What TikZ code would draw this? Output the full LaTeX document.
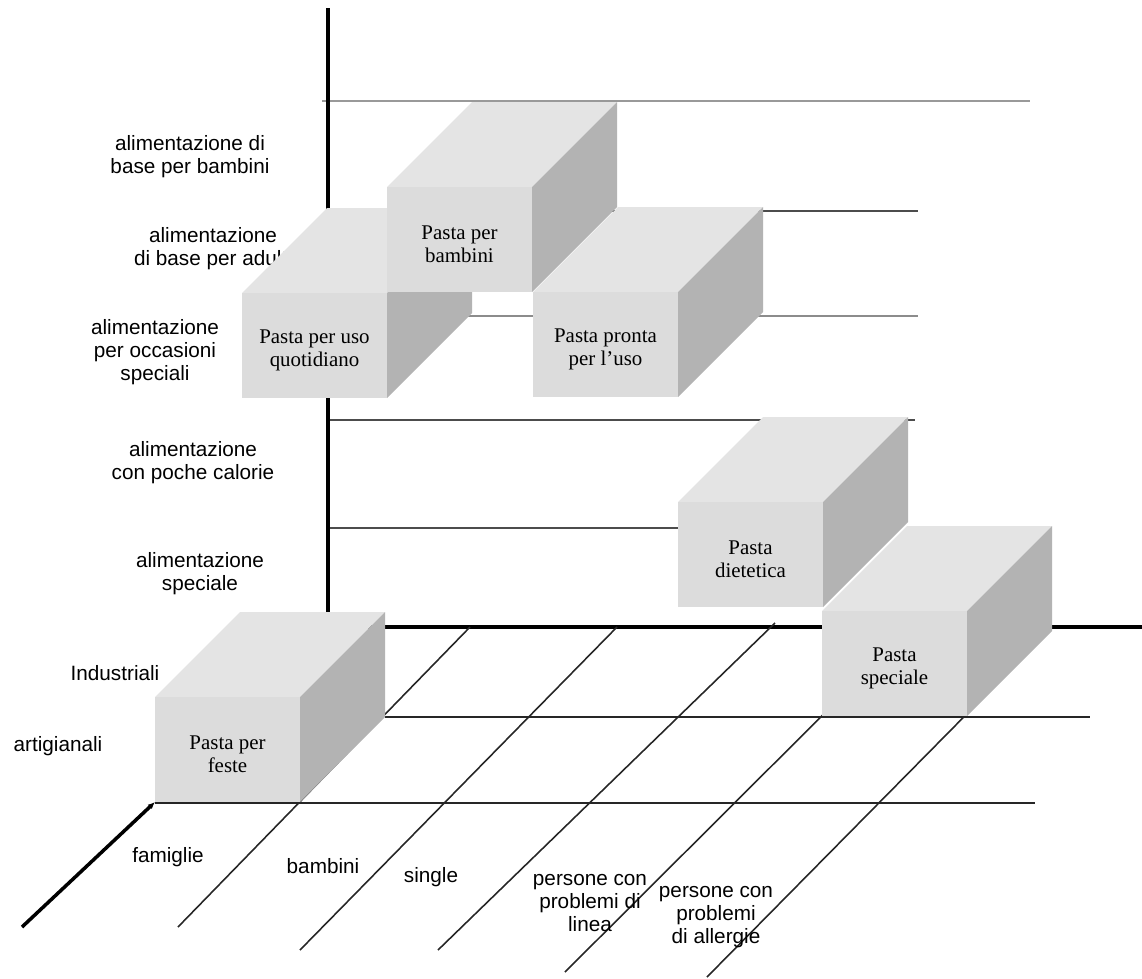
\documentclass[tikz,border=0pt]{standalone}
\usepackage{fontspec}
\setmainfont{Liberation Serif}
\setsansfont{Liberation Sans}
\usepackage{xcolor}
\usetikzlibrary{arrows.meta}
\definecolor{frontgray}{HTML}{DCDCDC}
\definecolor{topgray}{HTML}{E4E4E4}
\definecolor{sidegray}{HTML}{B3B3B3}
% cube: name, left x and top y of the front face, text
\newcommand{\pastacube}[4]{%
  \fill[topgray] (#2,#3) -- ++(85,-85) -- ++(145,0) -- ++(-85,85) -- cycle;
  \fill[sidegray] (#2+145,#3) -- ++(85,-85) -- ++(0,105) -- ++(-85,85) -- cycle;
  \fill[frontgray] (#2,#3) rectangle ++(145,105);
  \node[cubetext] (#1) at (#2+72.5,#3+57) {#4};
}

\begin{document}
\begin{tikzpicture}[
  x=0.02cm, y=-0.02cm,
  cubetext/.style={align=center, inner sep=0pt, font=\rmfamily\fontsize{11.9}{13.1}\selectfont},
  catlabel/.style={align=center, inner sep=0pt, font=\sffamily\fontsize{11.8}{13.1}\selectfont},
  rung/.style={line width=1.1pt, draw=black!55},
  axis/.style={line width=2.3pt},
  floorline/.style={line width=0.9pt, draw=black!85}
]
\useasboundingbox (0,0) rectangle (1142,978);

% levels on the back wall
\draw[rung, draw=black!40] (322,101) -- (1030,101);
\draw[rung, draw=black!70] (328,211) -- (918,211);
\draw[rung, draw=black!45] (328,316) -- (918,316);
\draw[rung, draw=black!70] (328,420) -- (915,420);
\draw[rung, draw=black!70] (328,528) -- (678,528);
\draw[axis] (328,8) -- (328,627);

% floor
\draw[axis, line width=2pt] (328,627) -- (1142,627);
\draw[floorline] (385,717) -- (1090,717);
\draw[floorline] (155,803) -- (1035,803);
\foreach \xa/\ya/\xb/\yb in {470/627/178/927, 617/627/300/950, 775/623/438/950, 911/627/565/972, 1023/657/707/977}
  \draw[floorline] (\xa,\ya) -- (\xb,\yb);
\draw[axis, line width=2pt, -{Latex[length=0.14cm, width=0.12cm]}] (22,927) -- (155,802);

% category labels
\node[catlabel] (basebimbi) at (190,157) {alimentazione di\\base per bambini};
\node[catlabel] (baseadulti) at (213,249) {alimentazione\\di base per adulti};
\node[catlabel] (occasioni) at (155,352) {alimentazione\\per occasioni\\speciali};
\node[catlabel] (calorie) at (193,463) {alimentazione\\con poche calorie};
\node[catlabel] (speciale) at (200,574) {alimentazione\\speciale};
\node[catlabel] (industriali) at (115,673) {Industriali};
\node[catlabel] (artigianali) at (58,746) {artigianali};
\node[catlabel] (famiglie) at (168,857) {famiglie};
\node[catlabel] (bambini) at (323,866) {bambini};
\node[catlabel] (single) at (431,877) {single};
\node[catlabel] (linea) at (590,903) {persone con\\problemi di\\linea};
\node[catlabel] (allergie) at (716,917) {persone con\\problemi\\di allergie};

% products
\pastacube{quotidiano}{242}{293}{Pasta per uso\\quotidiano}
\pastacube{perbambini}{387}{187}{Pasta per\\bambini}
\pastacube{pronta}{533}{292}{Pasta pronta\\per l’uso}
\pastacube{dietetica}{678}{502}{Pasta\\dietetica}
\pastacube{pspeciale}{822}{611}{Pasta\\speciale}
\pastacube{feste}{155}{697}{Pasta per\\feste}
\end{tikzpicture}
\end{document}
